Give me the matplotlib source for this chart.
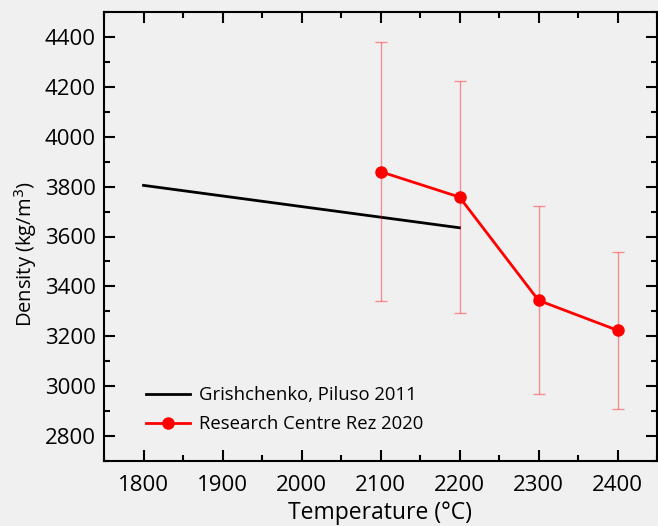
import matplotlib
matplotlib.use('Agg')
import matplotlib.pyplot as plt
from matplotlib.ticker import MultipleLocator

plt.rcParams['font.family'] = ['Open Sans', 'DejaVu Sans']

# Grishchenko, Piluso 2011
grish_t = [1800, 2200]
grish_rho = [3805, 3635]

# Research Centre Rez 2020
rez_t = [2100, 2200, 2300, 2400]
rez_rho = [3860, 3758, 3344, 3224]
rez_err_low = [520, 466, 376, 316]
rez_err_high = [518, 465, 379, 315]

bg = '#f0f0f0'
fig = plt.figure(figsize=(6.58, 5.26), dpi=100, facecolor=bg)
ax = fig.add_axes([104 / 658, 65 / 526, 553 / 658, 449 / 526])
ax.set_facecolor(bg)

ax.plot(grish_t, grish_rho, color='black', lw=2, label='Grishchenko, Piluso 2011')
ax.errorbar(rez_t, rez_rho, yerr=[rez_err_low, rez_err_high], fmt='none',
            ecolor=(1, 0, 0, 0.4), elinewidth=1, capsize=4)
ax.plot(rez_t, rez_rho, color='red', lw=2, marker='o', ms=8,
        label='Research Centre Rez 2020')

ax.set_xlim(1750, 2450)
ax.set_ylim(2700, 4500)
ax.xaxis.set_major_locator(MultipleLocator(100))
ax.xaxis.set_minor_locator(MultipleLocator(50))
ax.yaxis.set_major_locator(MultipleLocator(200))
ax.yaxis.set_minor_locator(MultipleLocator(100))
ax.tick_params(which='both', direction='in', top=True, right=True,
               labeltop=False, labelright=False, width=1.5)
ax.tick_params(which='major', length=8, labelsize=16)
ax.tick_params(axis='x', which='major', pad=10)
ax.tick_params(axis='y', which='major', pad=6)
ax.tick_params(which='minor', length=4)
for s in ax.spines.values():
    s.set_linewidth(1.5)

ax.set_xlabel('Temperature (°C)', fontsize=16.5, labelpad=4)
ax.set_ylabel('Density (kg/m$^3$)', fontsize=14.5)
ax.yaxis.set_label_coords(-0.118, 0.46)

ax.legend(loc='lower left', frameon=False, fontsize=13.3, handlelength=2.4,
          handletextpad=0.5, bbox_to_anchor=(0.045, 0.025), labelspacing=0.6)

fig.savefig('out.png', dpi=100, facecolor=bg)
